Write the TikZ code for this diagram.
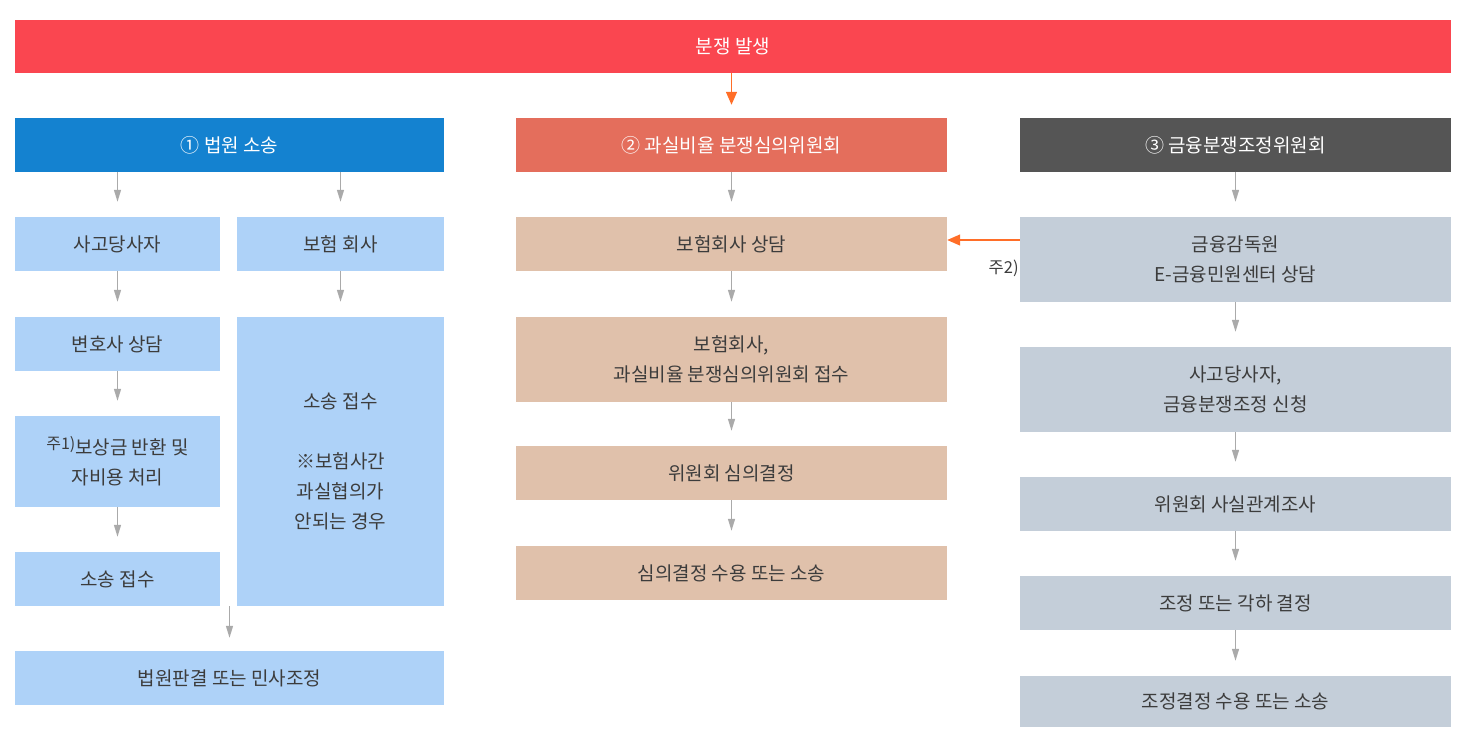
\documentclass[tikz,border=0pt]{standalone}
\usepackage{fontspec}
\setmainfont{Noto Sans CJK KR}
\usetikzlibrary{arrows.meta}
\definecolor{topred}{HTML}{FA4650}
\definecolor{headblue}{HTML}{1482D0}
\definecolor{headsalmon}{HTML}{E46E5C}
\definecolor{headgray}{HTML}{555555}
\definecolor{lblue}{HTML}{AED2F8}
\definecolor{ltan}{HTML}{E0C1AB}
\definecolor{lslate}{HTML}{C4CED9}
\definecolor{textgray}{HTML}{3C3C3C}
\definecolor{arrowgray}{HTML}{AAAAAA}
\definecolor{arroworange}{HTML}{FF6E28}
\begin{document}
\begin{tikzpicture}[x=1pt,y=-1pt,
	box/.style={rectangle,fill=#1,text=textgray,align=center,inner sep=0pt,font=\fontsize{19}{30}\selectfont},
	head/.style={box=#1,text=white},
	garrow/.style={draw=arrowgray,line width=1.3pt,-{Triangle[length=12pt,width=7pt]},shorten >=15pt},
	oarrow/.style={draw=arroworange,line width=1.4pt,-{Triangle[length=13pt,width=11pt]}}]
\useasboundingbox (0,0) rectangle (1472,750);
% top
\node [head=topred,minimum width=1436pt,minimum height=53pt] (top) at (733,46.5) {분쟁 발생};
% headers
\node [head=headblue,minimum width=429pt,minimum height=54pt] (h1) at (229.5,145) {① 법원 소송};
\node [head=headsalmon,minimum width=431pt,minimum height=54pt] (h2) at (731.5,145) {② 과실비율 분쟁심의위원회};
\node [head=headgray,minimum width=431pt,minimum height=54pt] (h3) at (1235.5,145) {③ 금융분쟁조정위원회};
% court
\node [box=lblue,minimum width=205pt,minimum height=54pt] (a1) at (117.5,244) {사고당사자};
\node [box=lblue,minimum width=205pt,minimum height=54pt] (a2) at (117.5,344) {변호사 상담};
\node [box=lblue,minimum width=205pt,minimum height=91pt] (a3) at (117.5,461.5) {\raisebox{0.5ex}{\fontsize{16}{16}\selectfont 주1)}보상금 반환 및\\자비용 처리};
\node [box=lblue,minimum width=205pt,minimum height=54pt] (a4) at (117.5,579) {소송 접수};
\node [box=lblue,minimum width=207pt,minimum height=54pt] (b1) at (340.5,244) {보험 회사};
\node [box=lblue,minimum width=207pt,minimum height=289pt] (b2) at (340.5,461.5) {소송 접수\\ \\※보험사간\\과실협의가\\안되는 경우};
\node [box=lblue,minimum width=429pt,minimum height=54pt] (a5) at (229.5,678) {법원판결 또는 민사조정};
% committee
\node [box=ltan,minimum width=431pt,minimum height=54pt] (c1) at (731.5,244) {보험회사 상담};
\node [box=ltan,minimum width=431pt,minimum height=85pt] (c2) at (731.5,359.5) {보험회사,\\과실비율 분쟁심의위원회 접수};
\node [box=ltan,minimum width=431pt,minimum height=54pt] (c3) at (731.5,473) {위원회 심의결정};
\node [box=ltan,minimum width=431pt,minimum height=54pt] (c4) at (731.5,573) {심의결정 수용 또는 소송};
% mediation
\node [box=lslate,minimum width=431pt,minimum height=85pt] (d1) at (1235.5,259.5) {금융감독원\\E-금융민원센터 상담};
\node [box=lslate,minimum width=431pt,minimum height=85pt] (d2) at (1235.5,389.5) {사고당사자,\\금융분쟁조정 신청};
\node [box=lslate,minimum width=431pt,minimum height=54pt] (d3) at (1235.5,504) {위원회 사실관계조사};
\node [box=lslate,minimum width=431pt,minimum height=54pt] (d4) at (1235.5,603) {조정 또는 각하 결정};
\node [box=lslate,minimum width=431pt,minimum height=51pt] (d5) at (1235.5,701.5) {조정결정 수용 또는 소송};
\node [anchor=east,inner sep=1pt,text=textgray,font=\fontsize{16.5}{16.5}\selectfont] (n2) at ([yshift=-9pt]d1.west) {주2)};
% arrows
\draw [oarrow,shorten >=13pt] (top.south -| h2) -- (h2);
\draw [garrow] (h1.south -| a1) -- (a1);
\draw [garrow] (h1.south -| b1) -- (b1);
\draw [garrow] (a1) -- (a2);
\draw [garrow] (a2) -- (a3);
\draw [garrow] (a3) -- (a4);
\draw [garrow] (b1) -- (b2);
\draw [garrow,shorten >=13pt] (a5.north |- a4.south) -- (a5);
\draw [garrow] (h2) -- (c1);
\draw [garrow] (c1) -- (c2);
\draw [garrow] (c2) -- (c3);
\draw [garrow] (c3) -- (c4);
\draw [garrow] (h3) -- (d1);
\draw [garrow] (d1) -- (d2);
\draw [garrow] (d2) -- (d3);
\draw [garrow] (d3) -- (d4);
\draw [garrow] (d4) -- (d5);
\coordinate (o1) at ([yshift=4pt]c1.east);
\draw [oarrow] (o1 -| d1.west) -- (o1);
\end{tikzpicture}
\end{document}
